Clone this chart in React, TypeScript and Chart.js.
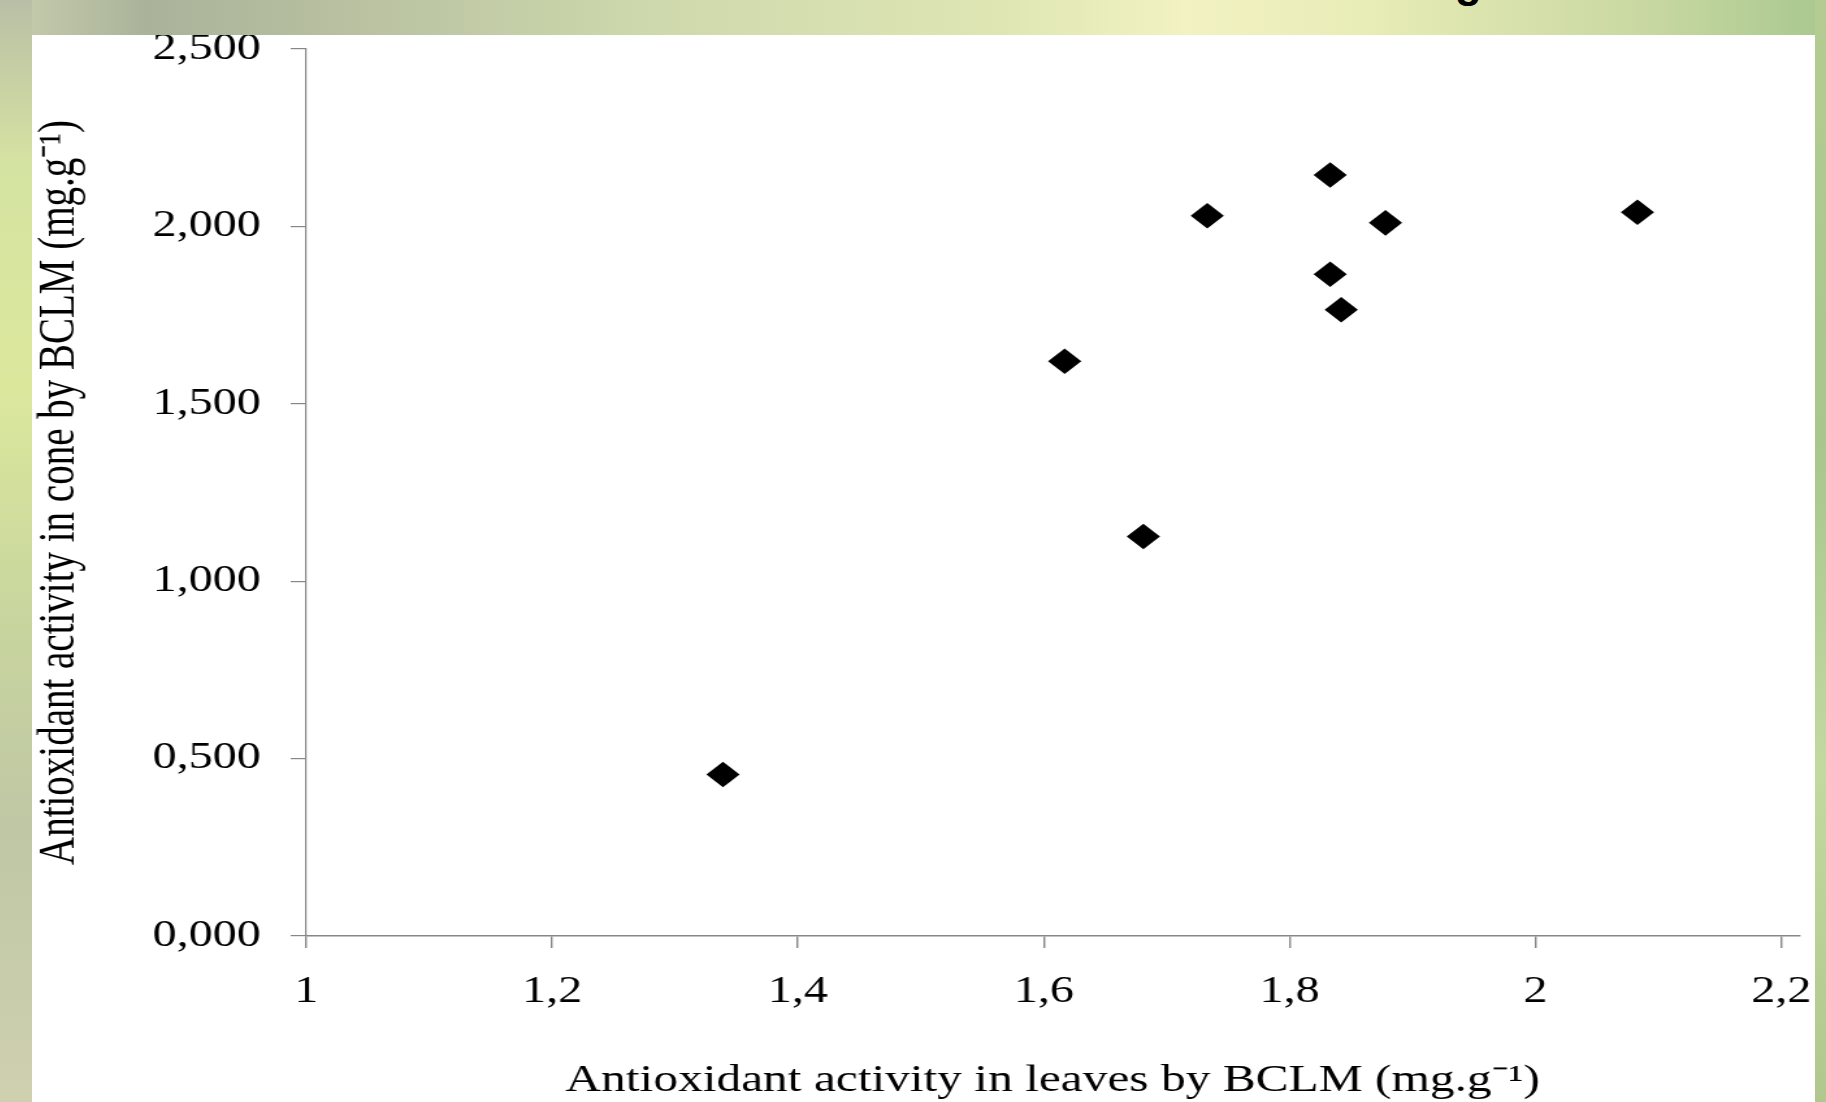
import React, { useEffect, useRef } from "react";
import { Chart, registerables } from "chart.js";

Chart.register(...registerables);

// Antioxidant activity in leaves (x) vs in cone (y), mg.g-1
const leavesValues = [1.733, 1.833, 1.878, 1.833, 1.842, 2.083, 1.617, 1.681, 1.339];
const coneValues = [2.03, 2.145, 2.01, 1.865, 1.765, 2.04, 1.62, 1.126, 0.455];

const xTickValues = [1, 1.2, 1.4, 1.6, 1.8, 2, 2.2];
const yTickValues = [0, 0.5, 1, 1.5, 2, 2.5];

const xTitle = "Antioxidant activity in leaves by BCLM (mg.g\u207B\u00B9)";
const yTitle = "Antioxidant activity in cone by BCLM (mg.g\u207B\u00B9)";

const SERIF = '"Liberation Serif", "Times New Roman", serif';

export default function App() {
  const ref = useRef<HTMLCanvasElement | null>(null);

  useEffect(() => {
    document.body.style.margin = "0";
    document.body.style.overflow = "hidden";
    const canvas = ref.current;
    if (!canvas) return;
    const points = leavesValues.map((x, i) => ({ x, y: coneValues[i] }));
    const chart = new Chart(canvas, {
      type: "scatter",
      data: {
        datasets: [
          {
            data: points,
            pointStyle: "rectRot",
            pointRadius: 12.8,
            pointHoverRadius: 12.8,
            backgroundColor: "#000",
            borderColor: "#000",
            borderWidth: 0,
          },
        ],
      },
      options: {
        animation: false,
        responsive: false,
        devicePixelRatio: 1,
        layout: { padding: { top: 44, left: 0, right: 0, bottom: 0 } },
        plugins: {
          legend: { display: false },
          tooltip: { enabled: false },
          title: { display: false },
        },
        scales: {
          x: {
            type: "linear",
            min: 1,
            max: 2.2144,
            afterBuildTicks: (scale: any) => {
              scale.ticks = xTickValues.map((v) => ({ value: v }));
            },
            afterFit: (scale: any) => {
              scale.height = 168;
              scale.paddingLeft = 0;
              scale.paddingRight = 0;
            },
            grid: {
              drawOnChartArea: false,
              drawTicks: true,
              tickLength: 12,
              color: "#878787",
              lineWidth: 1.4,
            },
            border: { display: true, color: "#878787", width: 1.6 },
            ticks: {
              autoSkip: false,
              maxRotation: 0,
              padding: 22,
              color: "#000",
              font: { family: SERIF, size: 37 },
              callback: (v: any) =>
                String(Number(Number(v).toFixed(1))).replace(".", ","),
            },
            title: {
              display: true,
              text: xTitle,
              color: "#000",
              font: { family: SERIF, size: 38 },
              padding: { top: 0, bottom: 0 },
            },
          },
          y: {
            type: "linear",
            min: 0,
            max: 2.5,
            afterBuildTicks: (scale: any) => {
              scale.ticks = yTickValues.map((v) => ({ value: v }));
            },
            afterFit: (scale: any) => {
              scale.width = 231;
              scale.paddingTop = 0;
              scale.paddingBottom = 0;
            },
            grid: {
              drawOnChartArea: false,
              drawTicks: true,
              tickLength: 12,
              color: "#878787",
              lineWidth: 1.2,
            },
            border: { display: true, color: "#878787", width: 1.2 },
            ticks: {
              padding: 23,
              color: "#000",
              font: { family: SERIF, size: 37 },
              callback: (v: any) => Number(v).toFixed(3).replace(".", ","),
            },
            title: {
              display: true,
              text: yTitle,
              color: "#000",
              font: { family: SERIF, size: 39 },
              padding: { top: 18, bottom: 0 },
            },
          },
        },
      },
    });
    return () => chart.destroy();
  }, []);

  return (
    <div
      style={{
        position: "fixed",
        left: 0,
        top: 0,
        width: 1826,
        height: 1102,
        overflow: "hidden",
        background:
          "linear-gradient(90deg, #c9cfae 0%, #aab39a 8%, #b7bfa0 18%, #cdd8ac 35%, #dfe6b4 55%, #f2f2c2 65%, #e8ecb6 75%, #c9d8a2 90%, #a9c890 100%)",
      }}
    >
      <div
        style={{
          position: "absolute",
          left: 0,
          top: 0,
          width: 32,
          height: 1102,
          background:
            "linear-gradient(180deg, #b9bfa6 0%, #d5e3a2 15%, #dbe89c 35%, #c9d69e 55%, #bfc7a4 75%, #cfd0b0 100%)",
        }}
      />
      <div
        style={{
          position: "absolute",
          left: 1815,
          top: 0,
          width: 11,
          height: 1102,
          background:
            "linear-gradient(180deg, #b4cc92 0%, #a7c78c 40%, #c2d9a0 70%, #b0c88e 100%)",
        }}
      />
      <div
        style={{
          position: "absolute",
          left: 1455,
          top: -40,
          fontFamily: '"Liberation Sans", Arial, sans-serif',
          fontWeight: "bold",
          fontSize: 44,
          lineHeight: "44px",
          color: "#000",
        }}
      >
        g
      </div>
      <div
        style={{
          position: "absolute",
          left: 32,
          top: 35,
          width: 1783,
          height: 1067,
          overflow: "hidden",
          background: "#ffffff",
        }}
      >
        <div
          style={{
            position: "absolute",
            left: -26,
            top: -30,
            width: 1392,
            height: 1099,
            transform: "scaleX(1.3)",
            transformOrigin: "0 0",
          }}
        >
          <canvas ref={ref} width={1392} height={1099} style={{ display: "block" }} />
        </div>
      </div>
    </div>
  );
}
